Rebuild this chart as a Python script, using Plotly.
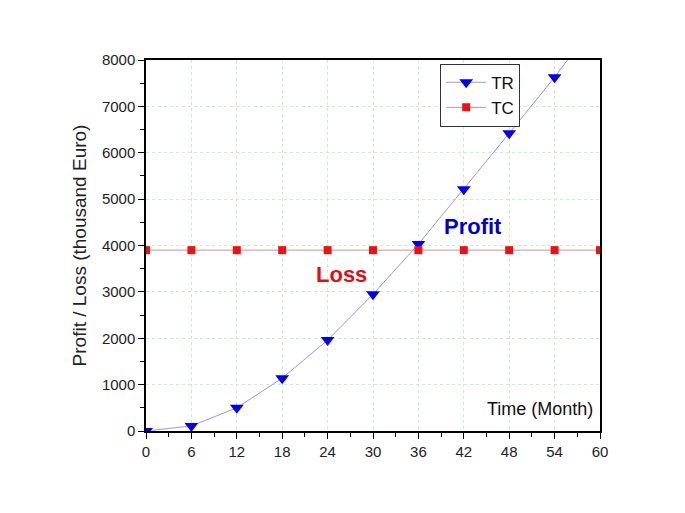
import plotly.graph_objects as go

months = [0, 6, 12, 18, 24, 30, 36, 42, 48, 54, 60]
tr_values = [0, 110, 500, 1140, 1960, 2950, 4030, 5215, 6420, 7630, 8930]
tc_values = [3900] * 11

fig = go.Figure()
fig.add_trace(go.Scatter(
    x=months, y=tr_values, name="TR", mode="lines+markers",
    line=dict(color="#9a9ad6", width=1),
    marker=dict(symbol="triangle-down", size=12, color="#0000ee"),
))
fig.add_trace(go.Scatter(
    x=months, y=tc_values, name="TC", mode="lines+markers",
    line=dict(color="#d09090", width=1),
    marker=dict(symbol="square", size=8, color="#ee1111"),
))

FONT = "Liberation Sans, Arial"
axis_common = dict(
    showline=True, linecolor="black", linewidth=1.5, mirror=True,
    ticks="outside", ticklen=6, tickcolor="black", tickwidth=1.2,
    showgrid=True, gridcolor="#cfeacf", griddash="dot", gridwidth=1,
    zeroline=False,
    tickfont=dict(family=FONT, size=15, color="#222"),
)

fig.update_xaxes(range=[0, 60], tickmode="linear", tick0=0, dtick=6,
                 minor=dict(ticks="outside", dtick=3, ticklen=4, tickcolor="black", showgrid=False),
                 **axis_common)
fig.update_yaxes(range=[0, 8000], tickmode="linear", tick0=0, dtick=1000,
                 minor=dict(ticks="outside", dtick=500, ticklen=4, tickcolor="black", showgrid=False),
                 title=dict(text="Profit / Loss (thousand Euro)",
                            font=dict(family=FONT, size=19, color="#222"),
                            standoff=10),
                 **axis_common)

fig.add_annotation(x=60, y=0, xref="x", yref="y", text="Time (Month)", showarrow=False,
                   xanchor="right", yanchor="bottom", xshift=-5, yshift=10,
                   font=dict(family=FONT, size=18, color="#111"))
fig.add_annotation(x=43.2, y=4420, xref="x", yref="y", text="<b>Profit</b>", showarrow=False,
                   font=dict(family=FONT, size=22, color="#0000cc"))
fig.add_annotation(x=25.8, y=3380, xref="x", yref="y", text="<b>Loss</b>", showarrow=False,
                   font=dict(family=FONT, size=22, color="#dd1111"))

fig.update_layout(
    width=685, height=513,
    margin=dict(l=138, r=93, t=52, b=90),
    paper_bgcolor="white", plot_bgcolor="white",
    showlegend=True,
    legend=dict(x=0.648, y=0.99, xanchor="left", yanchor="top",
                bgcolor="white", bordercolor="#333", borderwidth=1,
                font=dict(family=FONT, size=17, color="#111"),
                tracegroupgap=0, itemwidth=40),
)

fig.write_html("out.html")
